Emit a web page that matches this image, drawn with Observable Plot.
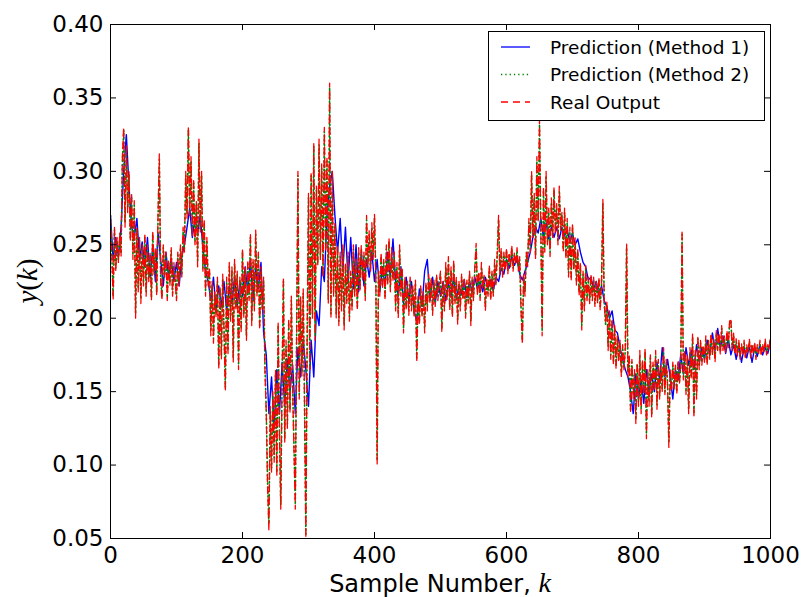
<!DOCTYPE html>
<html><head><meta charset="utf-8">
<script src="https://cdn.jsdelivr.net/npm/d3@7"></script>
<script src="https://cdn.jsdelivr.net/npm/@observablehq/plot@0.6"></script>
<style>body{margin:0;background:#fff} svg{display:block}</style>
</head><body><div id="chart"></div>
<script>
const stepReal = 2;
const stepMethod2 = 2;
const stepMethod1 = 4;

const realOutput = [
.268,.245,.212,.262,.232,.255,.238,.258,.242,.310,.330,.262,.318,.272,.300,.252,.285,.240,.280,.200,.262,.218,.255,.210,.250,
.222,.258,.215,.250,.225,.245,.212,.260,.230,.248,.215,.270,.312,.225,.212,.250,.228,.245,.212,.240,.222,.248,.215,.238,.225,
.212,.245,.222,.250,.228,.262,.245,.300,.268,.331,.270,.310,.255,.295,.250,.280,.235,.322,.258,.300,.232,.268,.215,.255,.222,
.235,.188,.225,.183,.218,.200,.228,.165,.222,.172,.230,.190,.150,.228,.175,.238,.198,.235,.170,.240,.205,.232,.165,.228,.190,
.248,.200,.235,.185,.240,.212,.258,.195,.240,.205,.260,.215,.245,.192,.235,.205,.228,.165,.135,.085,.055,.140,.095,.150,.102,
.165,.092,.198,.120,.070,.160,.228,.115,.185,.125,.200,.135,.215,.150,.110,.070,.190,.300,.145,.215,.160,.220,.140,.050,.190,
.285,.165,.300,.200,.320,.185,.290,.235,.322,.240,.305,.228,.330,.245,.310,.210,.360,.200,.300,.215,.265,.200,.250,.195,.245,
.205,.250,.192,.238,.210,.245,.198,.232,.205,.250,.215,.240,.205,.248,.218,.250,.225,.245,.212,.270,.235,.260,.232,.265,.240,
.271,.228,.100,.232,.215,.245,.220,.240,.212,.250,.222,.255,.218,.248,.225,.245,.205,.238,.200,.250,.215,.235,.190,.228,.205,
.225,.202,.228,.205,.222,.200,.226,.170,.215,.195,.222,.200,.218,.190,.225,.205,.230,.210,.228,.202,.226,.208,.230,.212,.224,
.232,.190,.225,.205,.238,.212,.242,.205,.235,.200,.240,.210,.228,.196,.225,.205,.230,.212,.228,.200,.226,.210,.232,.195,.228,
.212,.235,.251,.215,.232,.212,.238,.220,.230,.205,.228,.215,.236,.212,.232,.215,.240,.222,.245,.270,.230,.248,.228,.245,.232,
.248,.230,.245,.235,.250,.232,.245,.236,.248,.232,.242,.205,.182,.230,.215,.245,.235,.268,.245,.300,.255,.285,.240,.310,.265,
.335,.260,.188,.290,.245,.300,.250,.275,.242,.282,.255,.290,.258,.278,.250,.290,.260,.272,.245,.275,.240,.268,.228,.262,.225,
.265,.232,.255,.222,.248,.215,.238,.192,.232,.205,.236,.212,.228,.210,.230,.212,.228,.208,.226,.210,.228,.205,.225,.281,.210,
.198,.212,.178,.205,.172,.200,.168,.195,.165,.188,.170,.185,.160,.182,.165,.180,.251,.160,.175,.135,.172,.145,.165,.128,.170,
.140,.178,.135,.172,.148,.180,.118,.165,.140,.175,.132,.170,.150,.178,.138,.172,.145,.168,.150,.180,.148,.172,.155,.112,.165,
.150,.170,.152,.168,.148,.172,.155,.168,.260,.158,.178,.148,.175,.135,.180,.158,.190,.132,.178,.145,.188,.165,.185,.168,.182,
.170,.188,.168,.185,.172,.190,.175,.186,.170,.192,.178,.190,.175,.195,.178,.188,.176,.192,.180,.198,.200,.178,.190,.175,.186,
.174,.185,.172,.183,.175,.185,.172,.182,.176,.186,.173,.183,.175,.184,.172,.182,.176,.185,.174,.183,.176,.186,.175,.182,.178,
.188];

const method2 = [
.270,.243,.215,.260,.234,.253,.240,.256,.244,.306,.328,.265,.315,.275,.298,.255,.282,.243,.277,.203,.260,.220,.253,.213,.248,
.224,.255,.218,.248,.227,.243,.214,.257,.232,.246,.218,.267,.308,.228,.215,.248,.230,.243,.214,.238,.224,.246,.217,.236,.227,
.214,.243,.224,.248,.230,.259,.247,.297,.271,.328,.273,.307,.258,.292,.252,.277,.238,.319,.261,.297,.234,.265,.218,.253,.225,
.232,.191,.223,.186,.216,.203,.225,.168,.220,.175,.227,.193,.153,.225,.178,.235,.201,.232,.173,.237,.207,.230,.168,.226,.193,
.245,.203,.233,.188,.237,.214,.255,.198,.238,.208,.257,.217,.243,.195,.232,.207,.226,.168,.138,.088,.060,.137,.098,.147,.105,
.162,.095,.195,.123,.073,.158,.225,.118,.182,.128,.197,.138,.212,.153,.113,.073,.187,.297,.148,.212,.163,.217,.143,.053,.187,
.282,.168,.297,.203,.317,.188,.287,.238,.318,.243,.302,.231,.327,.248,.307,.213,.357,.203,.297,.218,.262,.203,.247,.198,.242,
.208,.247,.195,.236,.212,.242,.201,.230,.208,.247,.218,.238,.208,.245,.220,.247,.227,.243,.215,.267,.237,.257,.234,.262,.242,
.268,.231,.103,.229,.218,.242,.223,.238,.215,.247,.225,.252,.221,.245,.227,.242,.208,.235,.203,.247,.218,.233,.193,.226,.208,
.223,.205,.226,.208,.220,.203,.224,.173,.213,.198,.220,.203,.216,.193,.223,.208,.228,.213,.226,.205,.224,.210,.228,.214,.222,
.230,.193,.223,.208,.235,.214,.239,.208,.232,.203,.237,.212,.226,.199,.223,.208,.228,.214,.226,.203,.224,.212,.230,.198,.226,
.214,.233,.248,.218,.230,.214,.235,.222,.228,.208,.226,.217,.234,.214,.230,.217,.237,.224,.243,.267,.232,.246,.230,.243,.234,
.246,.232,.243,.237,.247,.234,.243,.238,.246,.234,.240,.208,.185,.228,.218,.243,.237,.265,.247,.297,.257,.282,.243,.307,.267,
.332,.262,.191,.287,.248,.297,.252,.272,.245,.279,.257,.287,.260,.275,.252,.287,.262,.270,.247,.272,.242,.265,.231,.259,.228,
.262,.234,.252,.225,.245,.218,.236,.195,.230,.208,.233,.214,.226,.212,.228,.214,.226,.210,.224,.212,.226,.208,.223,.278,.212,
.196,.209,.181,.203,.175,.198,.171,.193,.168,.186,.172,.183,.163,.180,.167,.178,.248,.163,.173,.138,.170,.148,.163,.131,.168,
.143,.175,.138,.170,.150,.177,.121,.163,.143,.173,.135,.168,.152,.175,.141,.170,.147,.166,.152,.177,.150,.170,.157,.115,.163,
.152,.168,.154,.166,.150,.170,.157,.166,.257,.160,.176,.150,.173,.138,.177,.160,.187,.135,.176,.148,.186,.167,.183,.170,.180,
.172,.186,.170,.183,.174,.188,.177,.184,.172,.190,.180,.188,.177,.193,.180,.186,.178,.190,.182,.196,.198,.180,.188,.177,.184,
.176,.183,.174,.181,.177,.183,.174,.180,.178,.184,.175,.181,.177,.182,.174,.180,.178,.183,.176,.181,.178,.184,.177,.180,.180,
.186];

const method1 = [
.270,.240,.255,.242,.262,.300,.325,.290,.262,.255,.268,.240,.252,.235,.255,.228,.248,.225,.258,.240,.222,.245,.228,.240,.225,
.238,.222,.242,.250,.262,.275,.255,.268,.258,.270,.248,.232,.225,.212,.228,.205,.222,.208,.225,.205,.222,.210,.228,.208,.225,
.215,.235,.218,.240,.212,.235,.220,.238,.190,.175,.135,.160,.125,.165,.135,.170,.140,.172,.150,.168,.135,.180,.160,.185,.165,
.140,.185,.160,.205,.195,.235,.225,.270,.290,.300,.270,.245,.268,.232,.262,.225,.255,.220,.250,.218,.245,.222,.240,.228,.245,
.225,.240,.218,.235,.222,.245,.228,.254,.225,.215,.235,.210,.228,.212,.225,.205,.198,.220,.208,.232,.240,.212,.228,.210,.225,
.215,.225,.212,.224,.215,.228,.213,.222,.216,.226,.214,.225,.218,.228,.220,.225,.218,.228,.220,.226,.219,.228,.225,.234,.230,
.240,.234,.242,.236,.240,.230,.226,.232,.238,.245,.255,.262,.258,.268,.255,.265,.254,.262,.255,.262,.254,.262,.256,.260,.252,
.258,.250,.254,.245,.238,.235,.226,.228,.220,.225,.216,.222,.212,.208,.200,.205,.192,.190,.180,.172,.165,.160,.150,.135,.162,
.145,.158,.142,.165,.150,.162,.150,.170,.158,.180,.160,.172,.160,.145,.165,.158,.175,.162,.180,.168,.178,.165,.182,.170,.180,
.172,.185,.175,.190,.178,.193,.180,.188,.176,.186,.175,.182,.172,.182,.170,.180,.173,.181,.170,.180,.174,.182,.175,.180,.176,
.185];

const xTicks = [0, 200, 400, 600, 800, 1000];
const yTicks = [0.05, 0.10, 0.15, 0.20, 0.25, 0.30, 0.35, 0.40];
const seriesNames = ["Prediction (Method 1)", "Prediction (Method 2)", "Real Output"];
const seriesColors = ["#0000ff", "#008000", "#ff0000"];
const seriesDash = [null, "1.3,3", "7,5"];

const rows = (arr, step) => arr.map((v, i) => ({k: i * step, v}));

const W = 802, H = 597, mL = 110, mR = 32, mT = 24, mB = 59;
const pw = W - mL - mR, ph = H - mT - mB, tk = 6;

const chart = Plot.plot({
  width: W, height: H,
  marginLeft: mL, marginRight: mR, marginTop: mT, marginBottom: mB,
  style: {fontFamily: "DejaVu Sans", background: "#fff", color: "#000"},
  x: {domain: [0, 1000]},
  y: {domain: [0.05, 0.40]},
  marks: [
    Plot.line(rows(method1, stepMethod1), {x: "k", y: "v", stroke: seriesColors[0], strokeWidth: 1.4, clip: true}),
    Plot.line(rows(method2, stepMethod2), {x: "k", y: "v", stroke: seriesColors[1], strokeWidth: 1.6, strokeDasharray: seriesDash[1], clip: true}),
    Plot.line(rows(realOutput, stepReal), {x: "k", y: "v", stroke: seriesColors[2], strokeWidth: 1.3, strokeDasharray: seriesDash[2], clip: true}),
    Plot.ruleX(xTicks, {insetTop: ph - tk, stroke: "#000"}),
    Plot.ruleX(xTicks, {insetBottom: ph - tk, stroke: "#000"}),
    Plot.ruleY(yTicks, {insetRight: pw - tk, stroke: "#000"}),
    Plot.ruleY(yTicks, {insetLeft: pw - tk, stroke: "#000"}),
    Plot.frame({stroke: "#000"}),
    Plot.axisX(xTicks, {tickSize: 0, tickPadding: 8, fontSize: 23, label: null, tickFormat: d => String(d)}),
    Plot.axisY(yTicks, {tickSize: 0, tickPadding: 7, fontSize: 23, label: null, tickFormat: d3.format(".2f")})
  ]
});

const svg = d3.select(chart);

// x label
const xl = svg.append("text")
  .attr("x", (mL + W - mR) / 2).attr("y", 592)
  .attr("text-anchor", "middle")
  .attr("font-family", "DejaVu Sans").attr("font-size", 24).attr("fill", "#000");
xl.append("tspan").text("Sample Number, ");
xl.append("tspan").attr("font-family", "Liberation Serif").attr("font-style", "italic").attr("font-size", 28).text("k");

// y label
const yl = svg.append("text")
  .attr("transform", "translate(37,281) rotate(-90)")
  .attr("text-anchor", "middle")
  .attr("font-family", "Liberation Serif").attr("font-size", 29).attr("fill", "#000");
yl.append("tspan").attr("font-style", "italic").text("y");
yl.append("tspan").text("(");
yl.append("tspan").attr("font-style", "italic").text("k");
yl.append("tspan").text(")");

// legend
const lg = svg.append("g");
lg.append("rect").attr("x", 488.5).attr("y", 31.5).attr("width", 276).attr("height", 89)
  .attr("fill", "#fff").attr("stroke", "#000").attr("stroke-width", 1);
const rowY = [47, 74.5, 102];
seriesNames.forEach((name, i) => {
  const ln = lg.append("line").attr("x1", 501).attr("x2", 530).attr("y1", rowY[i]).attr("y2", rowY[i])
    .attr("stroke", seriesColors[i]).attr("stroke-width", i === 1 ? 1.6 : 1.3);
  if (seriesDash[i]) ln.attr("stroke-dasharray", seriesDash[i]);
  lg.append("text").attr("x", 550).attr("y", rowY[i]).attr("dy", "0.36em")
    .attr("text-anchor", "start")
    .attr("font-family", "DejaVu Sans").attr("font-size", 18.5).attr("fill", "#000").text(name);
});

document.getElementById("chart").appendChild(chart);
</script>
</body></html>
